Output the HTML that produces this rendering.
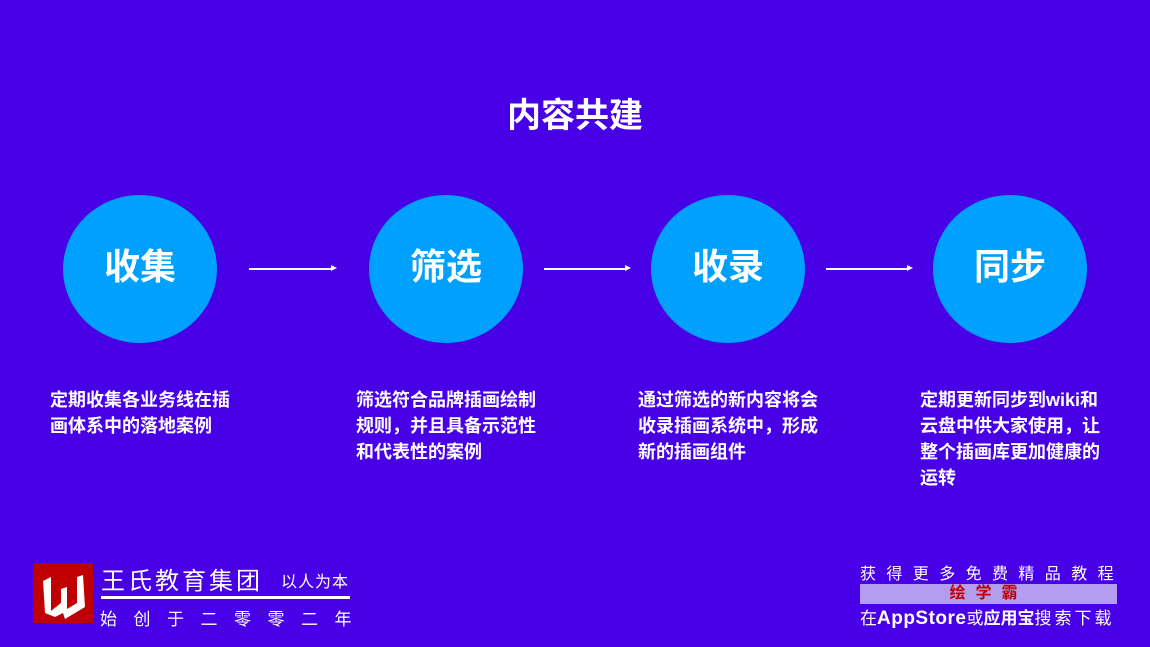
<!DOCTYPE html>
<html><head><meta charset="utf-8"><style>
body{margin:0;width:1150px;height:647px;background:#4800e6;overflow:hidden;position:relative;font-family:"Liberation Sans","Noto Sans CJK SC",sans-serif;color:#fff}
.a{position:absolute}
.c{position:absolute;width:154px;height:148px;border-radius:50%;background:#00a0ff;display:flex;align-items:center;justify-content:center;font-size:36px;font-weight:bold;top:195px;line-height:1;padding-bottom:4px;box-sizing:border-box}
.t{position:absolute;top:387px;font-size:18px;line-height:26px;font-weight:bold;width:200px}
.ar{position:absolute;top:268px;height:1.5px;background:#fff}
.ar:after{content:"";position:absolute;right:-4px;top:-3px;border-left:6px solid #fff;border-top:3.5px solid transparent;border-bottom:3.5px solid transparent}
</style></head><body>
<div class="a" style="left:0;top:88px;width:1150px;text-align:center;font-size:34px;font-weight:bold">内容共建</div>
<div class="c" style="left:63px">收集</div>
<div class="c" style="left:369px">筛选</div>
<div class="c" style="left:651px">收录</div>
<div class="c" style="left:933px">同步</div>
<div class="ar" style="left:249px;width:84px"></div>
<div class="ar" style="left:544px;width:83px"></div>
<div class="ar" style="left:826px;width:83px"></div>
<div class="t" style="left:50px">定期收集各业务线在插<br>画体系中的落地案例</div>
<div class="t" style="left:356px">筛选符合品牌插画绘制<br>规则，并且具备示范性<br>和代表性的案例</div>
<div class="t" style="left:638px">通过筛选的新内容将会<br>收录插画系统中，形成<br>新的插画组件</div>
<div class="t" style="left:920px">定期更新同步到wiki和<br>云盘中供大家使用，让<br>整个插画库更加健康的<br>运转</div>
<div class="a" style="left:33px;top:563px;width:60px;height:60px;background:#c00000"></div>
<svg class="a" style="left:33px;top:563px" width="60" height="60"><path d="M10 18 L18 14 L18 48 L28 40 L28 26 L34 24 L34 46 L44 40 L44 14 L50 12 L52 44 L32 56 L30 50 L22 54 L12 50 Z" fill="#fff"/></svg>
<div class="a" style="left:101px;top:561px;font-size:24px;letter-spacing:3px">王氏教育集团</div>
<div class="a" style="left:281px;top:568px;font-size:16px;letter-spacing:1px">以人为本</div>
<div class="a" style="left:101px;top:596px;width:249px;height:3px;background:#fff"></div>
<div class="a" style="left:100px;top:605px;font-size:17px;letter-spacing:16.5px">始创于二零零二年</div>
<div class="a" style="left:860px;top:560px;font-size:16px;letter-spacing:10.4px">获得更多免费精品教程</div>
<div class="a" style="left:860px;top:584px;width:257px;height:20px;background:#b49cf0;color:#c00000;font-size:16px;font-weight:bold;text-align:center;line-height:20px;letter-spacing:10px">绘学霸</div>
<div class="a" style="left:860px;top:604px;font-size:17px;white-space:nowrap">在<b style="font-size:19px;letter-spacing:0.5px">AppStore</b>或<b>应用宝</b><span style="letter-spacing:3px">搜索下载</span></div>
</body></html>
